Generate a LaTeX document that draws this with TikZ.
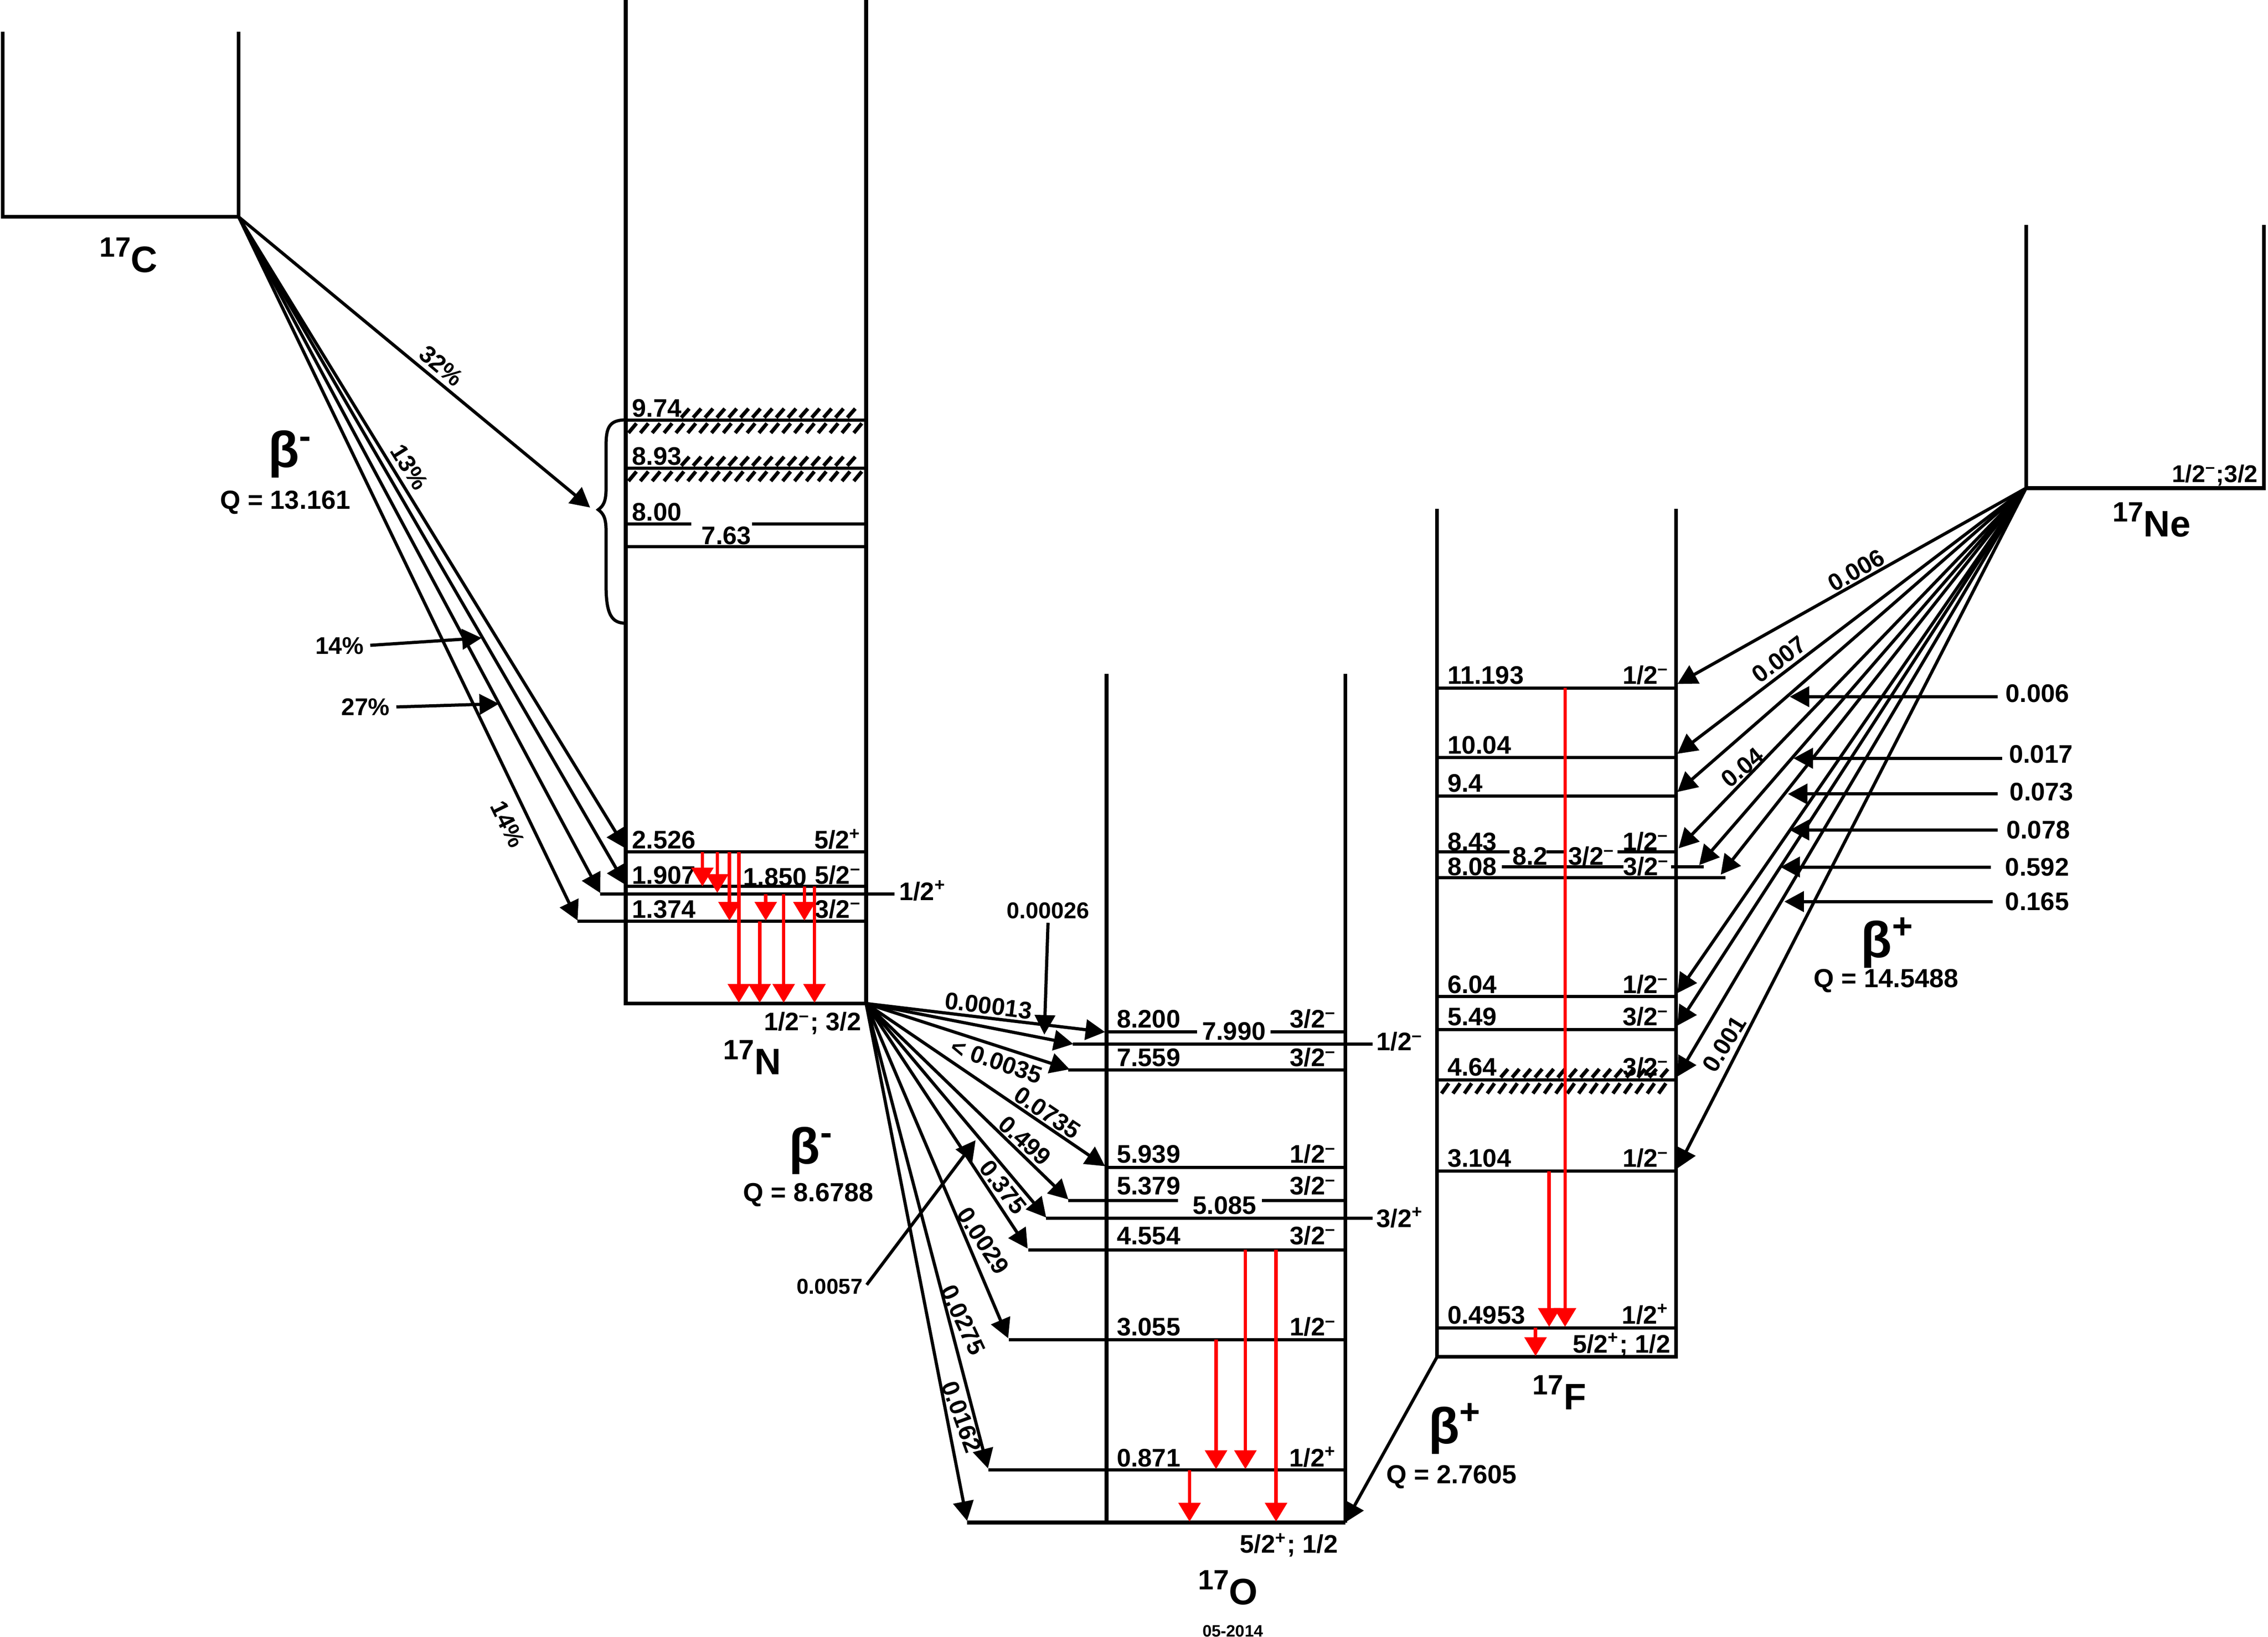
\documentclass[tikz,border=0pt]{standalone}
\usepackage{fontspec}
\setmainfont{Liberation Sans}
\usetikzlibrary{arrows.meta}

\newcommand{\iso}[2]{\raisebox{6pt}{\fontsize{11}{11}\selectfont #1}#2}
\newcommand{\spmin}{\textsuperscript{–}}
\newcommand{\spplus}{\textsuperscript{+}}

\begin{document}
\begin{tikzpicture}[x=0.02cm,y=-0.02cm
	,line width=1.25pt
	,box/.style={line width=1.45pt}
	,bdecay/.style={-{Triangle[length=0.27cm,width=0.28cm]}}
	,gam/.style={red,line width=1.35pt,-{Triangle[length=0.26cm,width=0.3cm]}}
	,hatch/.style={line width=1.45pt}
	,en/.style={anchor=base west,inner sep=0pt,font=\fontsize{10}{10}\selectfont\bfseries}
	,jp/.style={anchor=base east,inner sep=0pt,font=\fontsize{10}{10}\selectfont\bfseries}
	,br/.style={inner sep=0pt,font=\fontsize{9.5}{9.5}\selectfont\bfseries}
	,rl/.style={anchor=west,inner sep=0pt,font=\fontsize{10}{10}\selectfont\bfseries}
	,nuc/.style={inner sep=0pt,font=\fontsize{14.5}{14.5}\selectfont\bfseries}
	,bet/.style={inner sep=0pt,font=\fontsize{20}{20}\selectfont\bfseries}
	,qval/.style={inner sep=0pt,font=\fontsize{10.3}{10.3}\selectfont\bfseries}]
  \useasboundingbox (0,0) rectangle (1568,1132);

  % 17C
  \draw[box] (2,22) -- (2,150) -- (165,150) -- (165,22);
  \coordinate (C0) at (165,150);
  \node[nuc]  (nucC) at (88.9,176.4) {\iso{17}{C}};
  \node[bet]  (betC) at (200.7,314)  {β\textsuperscript{-}};
  \node[qval] (qC)   at (197.2,347.5) {Q = 13.161};

  % 17N
  \draw[box] (432.6,0) -- (432.6,694) -- (598.8,694) -- (598.8,0);
  \coordinate (N0) at (598.8,694);
  \draw (432.6,290.4) -- (598.8,290.4);                       % 9.74
  \draw (432.6,323.7) -- (598.8,323.7);                       % 8.93
  \draw (432.6,362.3) -- (478,362.3) (520,362.3) -- (598.8,362.3); % 8.00
  \draw (432.6,378)   -- (598.8,378);                         % 7.63
  \draw (432.6,589.2) -- (598.8,589.2);                       % 2.526
  \draw (432.6,613)   -- (598.8,613);                         % 1.907
  \draw (415,618.3)   -- (618.5,618.3);                       % 1.850
  \draw (399.3,637.2) -- (598.8,637.2);                       % 1.374
  % broad levels
  \foreach \x in {471,479.2,...,591} \draw[hatch] (\x,288.8) -- ++(5.5,-6.2);
  \foreach \x in {434.5,442.7,...,591} \draw[hatch] (\x,299.4) -- ++(5.5,-6.6);
  \foreach \x in {471,479.2,...,591} \draw[hatch] (\x,322.1) -- ++(5.5,-6.2);
  \foreach \x in {434.5,442.7,...,591} \draw[hatch] (\x,332.7) -- ++(5.5,-6.6);
  % brace over 7.63 -- 9.74
  \draw (432.6,290.4) .. controls (421,290.4) and (419,296) .. (419,308)
        -- (419,338) .. controls (419,347) and (417,350) .. (413.6,352.5)
        .. controls (417,355) and (419,358) .. (419,367)
        -- (419,405) .. controls (419,425) and (423,431) .. (432.6,431);
  \node[en] (n974)  at (436,288.5) {9.74};
  \node[en] (n893)  at (436,321.5) {8.93};
  \node[en] (n800)  at (436,360.3) {8.00};
  \node[en] (n763)  at (484,376.5) {7.63};
  \node[en] (n2526) at (436,587)   {2.526};
  \node[en] (n1907) at (436,611.3) {1.907};
  \node[en] (n1850) at (512.7,612.5) {1.850};
  \node[en] (n1374) at (436,634.8) {1.374};
  \node[jp] (j2526) at (596.5,587)   {5/2\spplus};
  \node[jp] (j1907) at (596.5,611.3) {5/2\spmin};
  \node[jp] (j1374) at (596.5,634.8) {3/2\spmin};
  \node[en] (j1850) at (620.5,622.5) {1/2\spplus};
  \node[jp] (jN0)   at (596.5,712.8) {1/2\spmin; 3/2};
  \node[nuc] (nucN) at (520,731.3) {\iso{17}{N}};
  % gammas
  \draw[gam] (485.6,589.2) -- (485.6,613);
  \draw[gam] (495.9,589.2) -- (495.9,617.5);
  \draw[gam] (504.3,589.2) -- (504.3,636.7);
  \draw[gam] (510.8,589.2) -- (510.8,693.5);
  \draw[gam] (525.2,637.2) -- (525.2,693.5);
  \draw[gam] (529.4,618.3) -- (529.4,636.7);
  \draw[gam] (541.8,618.3) -- (541.8,693.5);
  \draw[gam] (556.1,613)   -- (556.1,636.7);
  \draw[gam] (563.1,613)   -- (563.1,693.5);

  % 17C -> 17N
  \coordinate (Nbr)   at (408,351);
  \coordinate (N2526) at (432.6,586.8);
  \coordinate (N1907) at (432.6,612);
  \coordinate (N1850) at (415,617.6);
  \coordinate (N1374) at (399.3,636.6);
  \path [bdecay] (C0) edge (Nbr);
  \path [bdecay] (C0) edge (N2526);
  \path [bdecay] (C0) edge (N1907);
  \path [bdecay] (C0) edge (N1850);
  \path [bdecay] (C0) edge (N1374);
  \node[br,rotate=-40] (p32)  at (305,253) {32\%};
  \node[br,rotate=-58] (p13)  at (283,323) {13\%};
  \node[br,rotate=-64] (p14b) at (351,570) {14\%};
  \node[br,anchor=east] (p14) at (252.5,446.5) {14\%};
  \node[br,anchor=east] (p27) at (270.5,489)   {27\%};
  \coordinate (t14) at (333,441.2);
  \coordinate (t27) at (345,486.7);
  \draw[bdecay,shorten <=2pt] (p14.east) -- (t14);
  \draw[bdecay,shorten <=2pt] (p27.east) -- (t27);

  % 17O
  \draw[box] (765,466) -- (765,1052.9) (930,466) -- (930,1052.9);
  \draw[box] (668.6,1052.9) -- (930,1052.9);
  \coordinate (O0) at (930,1052.9);
  \draw (765,713.7)    -- (827.5,713.7) (878.4,713.7) -- (930,713.7); % 8.200
  \draw (741.7,722.2)  -- (948.9,722.2);                             % 7.990
  \draw (738.6,740)    -- (930,740);                                 % 7.559
  \draw (765,807.3)    -- (930,807.3);                               % 5.939
  \draw (738.6,830.2)  -- (814.3,830.2) (872.4,830.2) -- (930,830.2); % 5.379
  \draw (723.3,842.6)  -- (948.9,842.6);                             % 5.085
  \draw (710.9,864.4)  -- (930,864.4);                               % 4.554
  \draw (697.5,926.4)  -- (930,926.4);                               % 3.055
  \draw (683.4,1016.6) -- (930,1016.6);                              % 0.871
  \node[en] (o8200) at (771,710.7)  {8.200};
  \node[en] (o7990) at (830,719.3)  {7.990};
  \node[en] (o7559) at (771,737.5)  {7.559};
  \node[en] (o5939) at (771,804.3)  {5.939};
  \node[en] (o5379) at (771,826.3)  {5.379};
  \node[en] (o5085) at (823.5,839.5) {5.085};
  \node[en] (o4554) at (771,860.6)  {4.554};
  \node[en] (o3055) at (771,923.7)  {3.055};
  \node[en] (o0871) at (771,1014.2) {0.871};
  \node[jp] (k8200) at (925,710.7)  {3/2\spmin};
  \node[en] (k7990) at (950.5,726.5) {1/2\spmin};
  \node[jp] (k7559) at (925,737.5)  {3/2\spmin};
  \node[jp] (k5939) at (925,804.3)  {1/2\spmin};
  \node[jp] (k5379) at (925,826.3)  {3/2\spmin};
  \node[en] (k5085) at (950.5,848.6) {3/2\spplus};
  \node[jp] (k4554) at (925,860.6)  {3/2\spmin};
  \node[jp] (k3055) at (925,923.7)  {1/2\spmin};
  \node[jp] (k0871) at (925,1014.2) {1/2\spplus};
  \node[jp] (kO0)   at (926,1074)   {5/2\spplus; 1/2};
  \node[nuc] (nucO) at (849,1098) {\iso{17}{O}};
  \node[inner sep=0pt,font=\fontsize{6.5}{6.5}\selectfont\bfseries] (date) at (852.3,1128) {05-2014};
  % gammas
  \draw[gam] (840.7,926.4) -- (840.7,1016);
  \draw[gam] (861,864.4)   -- (861,1016);
  \draw[gam] (882.2,864.4) -- (882.2,1052.3);
  \draw[gam] (822.4,1016.6) -- (822.4,1052.3);

  % 17N -> 17O
  \coordinate (o1)  at (764,713.7);
  \coordinate (o2)  at (742,722);
  \coordinate (o3)  at (739.5,739.5);
  \coordinate (o4)  at (764,806.5);
  \coordinate (o5)  at (738.6,829.5);
  \coordinate (o6)  at (723.3,842);
  \coordinate (o7)  at (710.5,863.5);
  \coordinate (o8)  at (697,925.5);
  \coordinate (o9)  at (683,1015.5);
  \coordinate (o10) at (668.6,1051.8);
  \foreach \t in {o1,o2,o3,o4,o5,o6,o7,o8,o9,o10}
    \path [bdecay] (N0) edge (\t);
  \node[br,rotate=-7]  (b1) at (683.4,695.5) {0.00013};
  \node[br,rotate=-19] (b3) at (689,733.8)   {< 0.0035};
  \node[br,rotate=-34] (b4) at (724,769.5)   {0.0735};
  \node[br,rotate=-42] (b5) at (708.4,788.8) {0.499};
  \node[br,rotate=-52] (b6) at (693.5,821)   {0.375};
  \node[br,rotate=-57] (b7) at (679.7,858)   {0.0029};
  \node[br,rotate=-65] (b8) at (665.8,912.7) {0.0275};
  \node[br,rotate=-70] (b9) at (664.8,979.8) {0.0162};
  \node[br,font=\fontsize{9}{9}\selectfont\bfseries] (a26) at (724.6,629.7) {0.00026};
  \node[br,font=\fontsize{8.5}{8.5}\selectfont\bfseries,anchor=east] (a57) at (597.5,889.8) {0.0057};
  \coordinate (t26) at (722,715.5);
  \coordinate (t57) at (674.5,788.5);
  \draw[bdecay,shorten <=1pt] (a26.south) -- (t26);
  \draw[bdecay] (599.2,888.5) -- (t57);
  \node[bet]  (betN) at (560.9,795.8) {β\textsuperscript{-}};
  \node[qval] (qN)   at (559,826.3) {Q = 8.6788};

  % 17F
  \draw[box] (993.5,352) -- (993.5,938.4) -- (1158.8,938.4) -- (1158.8,352);
  \coordinate (F0) at (993.5,938.4);
  \draw (993.5,475.8) -- (1158.8,475.8);                     % 11.193
  \draw (993.5,524)   -- (1158.8,524);                       % 10.04
  \draw (993.5,550.4) -- (1158.8,550.4);                     % 9.4
  \draw (993.5,589) -- (1043.6,589) (1069.1,589) -- (1082.3,589)
        (1118.4,589) -- (1158.8,589);                        % 8.43
  \draw (1038.4,599.4) -- (1122.4,599.4) (1155.3,599.4) -- (1178,599.4); % 8.2
  \draw (993.5,607.1) -- (1192.8,607.1);                     % 8.08
  \draw (993.5,689.1) -- (1158.8,689.1);                     % 6.04
  \draw (993.5,712)   -- (1158.8,712);                       % 5.49
  \draw (993.5,746.7) -- (1158.8,746.7);                     % 4.64
  \draw (993.5,810)   -- (1158.8,810);                       % 3.104
  \draw (993.5,918.3) -- (1158.8,918.3);                     % 0.4953
  \foreach \x in {1037.5,1045.4,...,1150} \draw[hatch] (\x,745.1) -- ++(5,-5.8);
  \foreach \x in {996.6,1004.5,...,1150} \draw[hatch] (\x,756.2) -- ++(5,-7);
  \node[en] (f11193) at (999.6,473)   {11.193};
  \node[en] (f1004)  at (999.6,521.3) {10.04};
  \node[en] (f94)    at (999.6,547.7) {9.4};
  \node[en] (f843)   at (999.6,588)   {8.43};
  \node[en] (f82)    at (1044.5,598.3) {8.2};
  \node[en] (f808)   at (999.6,605.5) {8.08};
  \node[en] (f604)   at (999.6,686.9) {6.04};
  \node[en] (f549)   at (999.6,709.3) {5.49};
  \node[en] (f464)   at (999.6,744)   {4.64};
  \node[en] (f3104)  at (999.6,807)   {3.104};
  \node[en] (f4953)  at (999.6,915.4) {0.4953};
  \node[jp] (g11193) at (1155,473)    {1/2\spmin};
  \node[jp] (g843)   at (1155,588)    {1/2\spmin};
  \node[jp] (g82)    at (1117.5,598.3) {3/2\spmin};
  \node[jp] (g808)   at (1155.3,605.5) {3/2\spmin};
  \node[jp] (g604)   at (1155,686.9)  {1/2\spmin};
  \node[jp] (g549)   at (1155,709.3)  {3/2\spmin};
  \node[jp] (g464)   at (1155,744)    {3/2\spmin};
  \node[jp] (g3104)  at (1155,807)    {1/2\spmin};
  \node[jp] (g4953)  at (1155,915.4)  {1/2\spplus};
  \node[jp] (gF0)    at (1156,935.5)  {5/2\spplus; 1/2};
  \node[nuc] (nucF) at (1078,963) {\iso{17}{F}};
  % gammas
  \draw[gam] (1082,475.8) -- (1082,917.6);
  \draw[gam] (1071,810)   -- (1071,917.6);
  \draw[gam] (1061.6,918.3) -- (1061.6,937.8);

  % 17F -> 17O
  \path [bdecay] (F0) edge (O0);
  \node[bet]  (betF) at (1006,988) {β\textsuperscript{+}};
  \node[qval] (qF)   at (1003.5,1021.5) {Q = 2.7605};

  % 17Ne
  \draw[box] (1400.7,155.5) -- (1400.7,337.6) -- (1565.2,337.6) -- (1565.2,155.5);
  \coordinate (Ne0) at (1400.7,337.6);
  \node[jp,font=\fontsize{9.5}{9.5}\selectfont\bfseries] (jNe) at (1562,333.5) {1/2\spmin;3/2};
  \node[nuc] (nucNe) at (1487.5,359.4) {\iso{17}{Ne}};
  \node[bet]  (betNe) at (1305,652) {β\textsuperscript{+}};
  \node[qval] (qNe)   at (1304,678.4) {Q = 14.5488};

  % 17Ne -> 17F
  \coordinate (f1)  at (1159.7,473);
  \coordinate (f2)  at (1159.7,521.3);
  \coordinate (f3)  at (1159.7,547.7);
  \coordinate (f4)  at (1160.5,586.7);
  \coordinate (f5)  at (1174.7,598.3);
  \coordinate (f6)  at (1189.6,604.9);
  \coordinate (f7)  at (1159.7,686.8);
  \coordinate (f8)  at (1159.7,709.3);
  \coordinate (f9)  at (1159.7,744.5);
  \coordinate (f10) at (1159.7,808);
  \foreach \t in {f1,f2,f3,f4,f5,f6,f7,f8,f9,f10}
    \path [bdecay] (Ne0) edge (\t);
  \node[br,rotate=30] (c1)  at (1283.2,394.4) {0.006};
  \node[br,rotate=37] (c2)  at (1229.9,456)   {0.007};
  \node[br,rotate=40] (c4)  at (1204.5,530.7) {0.04};
  \node[br,rotate=58] (c10) at (1192,722)     {0.001};
  % side labels
  \node[rl] (r1) at (1385.5,479.6) {0.006};
  \node[rl] (r2) at (1387.9,521.7) {0.017};
  \node[rl] (r3) at (1388.4,547.5) {0.073};
  \node[rl] (r4) at (1386,573.8)   {0.078};
  \node[rl] (r5) at (1385.3,599.8) {0.592};
  \node[rl] (r6) at (1385.3,623.4) {0.165};
  \coordinate (s1) at (1237.3,481.8);
  \coordinate (s2) at (1239.9,524.4);
  \coordinate (s3) at (1236.1,549.1);
  \coordinate (s4) at (1237.3,574);
  \coordinate (s5) at (1230.9,599.6);
  \coordinate (s6) at (1233.6,623.5);
  \draw[bdecay] (1381.2,481.8) -- (s1);
  \draw[bdecay] (1384.2,524.4) -- (s2);
  \draw[bdecay] (1381.2,549.1) -- (s3);
  \draw[bdecay] (1381.2,574)   -- (s4);
  \draw[bdecay] (1376.4,599.6) -- (s5);
  \draw[bdecay] (1377.7,623.5) -- (s6);
\end{tikzpicture}
\end{document}
